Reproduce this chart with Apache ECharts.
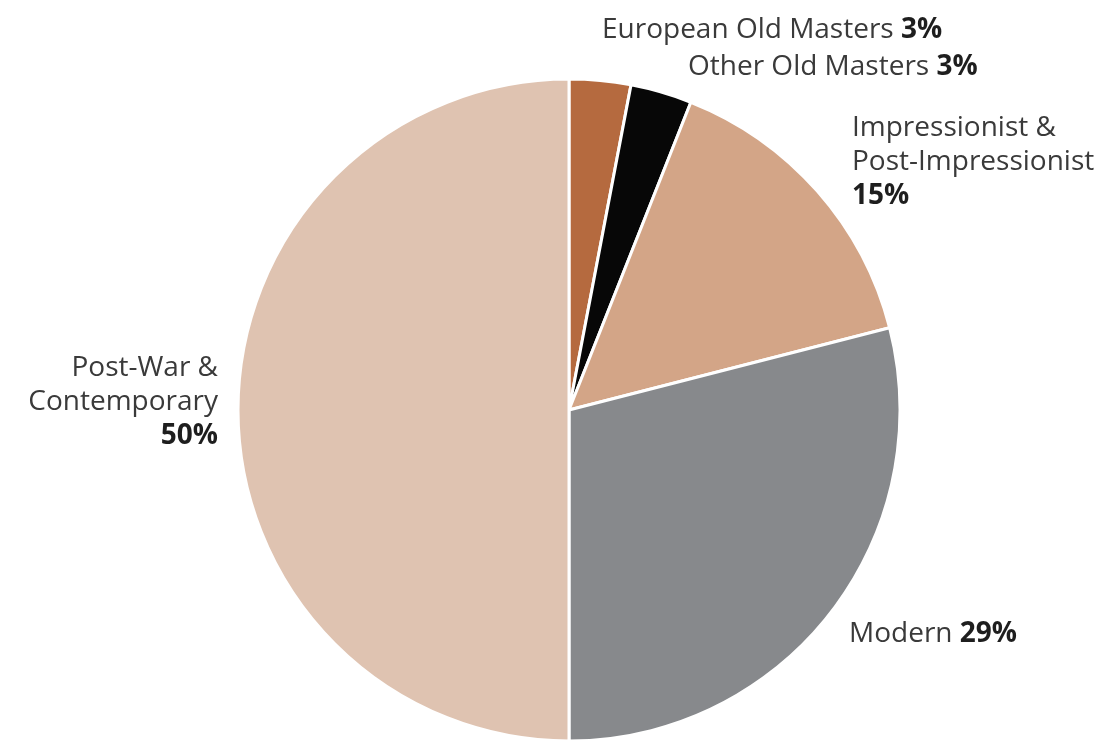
<!DOCTYPE html>
<html><head><meta charset="utf-8">
<script src="https://cdn.jsdelivr.net/npm/echarts@6/dist/echarts.min.js"></script>
<style>html,body{margin:0;padding:0;background:#fff}#c{width:1119px;height:741px}</style>
</head><body><div id="c"></div>
<script>
const categories = ['European Old Masters', 'Other Old Masters', 'Impressionist &\nPost-Impressionist', 'Modern', 'Post-War &\nContemporary'];
const values = [3, 3, 15, 29, 50];
const percentLabels = ['3%', '3%', '15%', '29%', '50%'];
const colors = ['#b56a3f', '#070707', '#d3a587', '#87898c', '#dfc3b1'];

// label placement per slice (layout only)
const labelPos = [
  {x: 602, y: 30, align: 'left', inline: true},
  {x: 688, y: 67, align: 'left', inline: true},
  {x: 852, y: 162, align: 'left', inline: false},
  {x: 849, y: 634, align: 'left', inline: true},
  {x: 218, y: 402, align: 'right', inline: false}
];

const chart = echarts.init(document.getElementById('c'));
const FONT = '"Open Sans", sans-serif';
chart.setOption({
  animation: false,
  series: [{
    type: 'pie',
    center: [569, 410],
    radius: [0, 331],
    startAngle: 90,
    clockwise: true,
    avoidLabelOverlap: false,
    data: categories.map((c, i) => ({name: c, value: values[i], itemStyle: {color: colors[i]}})),
    itemStyle: {borderColor: '#ffffff', borderWidth: 3},
    labelLine: {show: false},
    label: {
      show: true,
      position: 'outside',
      formatter: p => {
        const lp = labelPos[p.dataIndex];
        const lines = categories[p.dataIndex].split('\n').map(l => '{n|' + l + '}').join('\n');
        return lp.inline
          ? '{n|' + categories[p.dataIndex] + ' }{b|' + percentLabels[p.dataIndex] + '}'
          : lines + '\n{b|' + percentLabels[p.dataIndex] + '}';
      },
      rich: {
        n: {fontFamily: FONT, fontSize: 28, color: '#3a3a3a', lineHeight: 34, letterSpacing: -0.5},
        b: {fontFamily: FONT, fontSize: 28, fontWeight: 'bold', color: '#1e1e1e', lineHeight: 34, letterSpacing: -0.5}
      }
    },
    labelLayout: p => {
      const lp = labelPos[p.dataIndex];
      return {x: lp.x, y: lp.y, align: lp.align, verticalAlign: 'middle'};
    }
  }]
});
</script></body></html>
